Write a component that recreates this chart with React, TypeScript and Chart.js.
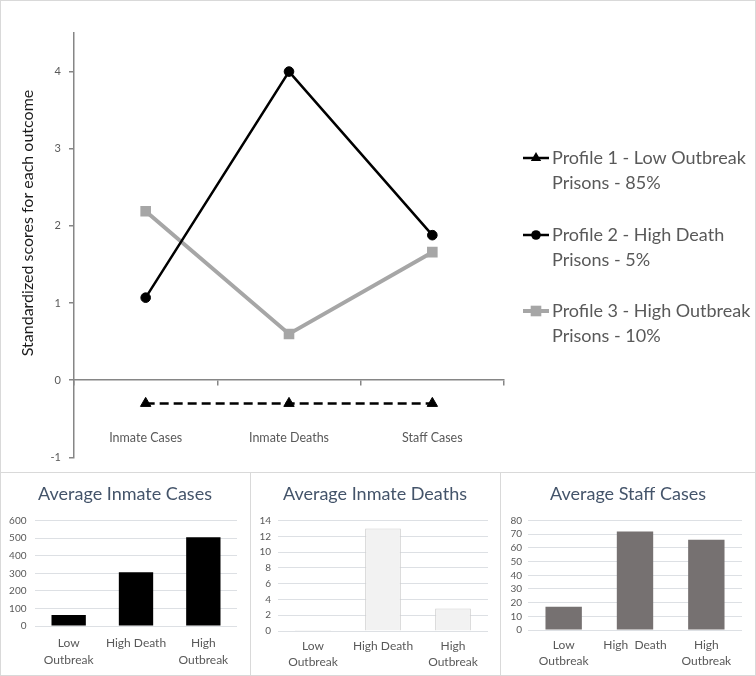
import React, { useEffect, useRef } from 'react';
import { Chart, registerables } from 'chart.js';

Chart.register(...registerables);
Chart.defaults.font.family = 'Lato, "Open Sans", sans-serif';

// ---------- data ----------
const outcomes = ['Inmate Cases', 'Inmate Deaths', 'Staff Cases'];
const profileNames = [
  ['Profile 1 - Low Outbreak', 'Prisons - 85%'],
  ['Profile 2 - High Death', 'Prisons - 5%'],
  ['Profile 3 - High Outbreak', 'Prisons - 10%'],
];
const profile1 = [-0.3, -0.3, -0.3];
const profile2 = [1.07, 4.0, 1.88];
const profile3 = [2.19, 0.6, 1.66];
const mainYMin = -1;
const mainYMax = 4.5;

const groupLabels = [['Low', 'Outbreak'], 'High Death', ['High', 'Outbreak']];
const staffGroupLabels = [['Low', 'Outbreak'], 'High  Death', ['High', 'Outbreak']];
const avgInmateCases = [63, 306, 505];
const avgInmateDeaths = [0.12, 13.0, 2.85];
const avgStaffCases = [17, 72, 66];

const axisGray = '#868686';
const textGray = '#595959';
const gridLight = '#dde0e4';
const borderLight = '#d9d9d9';

// ---------- plugins ----------
const yTitlePlugin = {
  id: 'yTitle',
  afterDraw(chart: any) {
    const ctx = chart.ctx;
    ctx.save();
    ctx.translate(28, 223);
    ctx.rotate(-Math.PI / 2);
    ctx.fillStyle = '#1a1a1a';
    ctx.font = '16px Lato, "Open Sans", sans-serif';
    ctx.textAlign = 'center';
    ctx.textBaseline = 'middle';
    ctx.fillText('Standardized scores for each outcome', 0, 0);
    ctx.restore();
  },
};

const legendPlugin = {
  id: 'sideLegend',
  afterDraw(chart: any) {
    const ctx = chart.ctx;
    const ys = [158, 235, 311];
    chart.data.datasets.forEach((ds: any, i: number) => {
      const y = ys[i];
      ctx.save();
      ctx.strokeStyle = ds.borderColor;
      ctx.lineWidth = ds.borderWidth;
      ctx.beginPath();
      ctx.moveTo(523, y);
      ctx.lineTo(549, y);
      ctx.stroke();
      ctx.fillStyle = ds.pointBackgroundColor;
      const r = ds.pointRadius;
      ctx.beginPath();
      if (ds.pointStyle === 'triangle') {
        ctx.moveTo(536, y - r);
        ctx.lineTo(536 + r * 0.866, y + r * 0.5);
        ctx.lineTo(536 - r * 0.866, y + r * 0.5);
        ctx.closePath();
      } else if (ds.pointStyle === 'rect') {
        const s = r * Math.SQRT1_2;
        ctx.rect(536 - s, y - s, 2 * s, 2 * s);
      } else {
        ctx.arc(536, y, r, 0, Math.PI * 2);
      }
      ctx.fill();
      ctx.fillStyle = textGray;
      ctx.font = '18px Lato, "Open Sans", sans-serif';
      ctx.textAlign = 'left';
      ctx.textBaseline = 'middle';
      const lines = profileNames[i];
      lines.forEach((t, k) => ctx.fillText(t, 552, y + k * 25));
      ctx.restore();
    });
  },
};

// ---------- configs ----------
const mainConfig: any = {
  type: 'line',
  data: {
    labels: outcomes,
    datasets: [
      {
        label: profileNames[0].join(' '),
        data: profile1,
        borderColor: '#000000',
        backgroundColor: '#000000',
        borderWidth: 2.5,
        borderDash: [9, 5],
        pointStyle: 'triangle',
        pointRadius: 6,
        pointBorderWidth: 1,
        pointBackgroundColor: '#000000',
        pointBorderColor: '#000000',
      },
      {
        label: profileNames[1].join(' '),
        data: profile2,
        borderColor: '#000000',
        backgroundColor: '#000000',
        borderWidth: 2.5,
        pointStyle: 'circle',
        pointRadius: 4.8,
        pointBorderWidth: 1,
        pointBackgroundColor: '#000000',
        pointBorderColor: '#000000',
      },
      {
        label: profileNames[2].join(' '),
        data: profile3,
        borderColor: '#a6a6a6',
        backgroundColor: '#a6a6a6',
        borderWidth: 4,
        pointStyle: 'rect',
        pointRadius: 7.5,
        pointBorderWidth: 0,
        pointBackgroundColor: '#a6a6a6',
        pointBorderColor: '#a6a6a6',
      },
    ],
  },
  options: {
    responsive: false,
    animation: false,
    devicePixelRatio: 1,
    layout: { padding: { top: 33, bottom: 12, left: 0, right: 252 } },
    plugins: { legend: { display: false }, tooltip: { enabled: false }, title: { display: false } },
    scales: {
      x: {
        type: 'category',
        position: { y: 0 },
        offset: true,
        grid: {
          display: true,
          drawOnChartArea: false,
          drawTicks: true,
          tickLength: 5,
          offset: true,
          color: axisGray,
          lineWidth: 1.5,
        },
        border: { display: true, color: axisGray, width: 1.5 },
        ticks: { padding: 45, color: textGray, font: { size: 12.5 }, maxRotation: 0 },
      },
      y: {
        type: 'linear',
        min: mainYMin,
        max: mainYMax,
        afterBuildTicks: (s: any) => {
          s.ticks = s.ticks.filter((t: any) => Number.isInteger(t.value));
        },
        afterFit: (s: any) => {
          s.width = 74;
        },
        grid: { drawOnChartArea: false, drawTicks: true, tickLength: 5, color: axisGray, lineWidth: 1.5 },
        border: { display: true, color: axisGray, width: 1.5 },
        ticks: { stepSize: 1, padding: 8, color: textGray, font: { size: 11 } },
      },
    },
  },
  plugins: [legendPlugin, yTitlePlugin],
};

function barConfig(
  title: string,
  labels: any[],
  values: number[],
  fill: string,
  stroke: string,
  yMax: number,
  step: number,
  yWidth: number,
  xHeight: number,
  tickPad: number,
  xPad: number,
  lineH: number,
  rightPad: number
): any {
  return {
    type: 'bar',
    data: {
      labels,
      datasets: [
        {
          label: title,
          data: values,
          backgroundColor: fill,
          borderColor: stroke,
          borderWidth: stroke === fill ? 0 : 1,
          barPercentage: 1,
          categoryPercentage: 0.51,
        },
      ],
    },
    options: {
      responsive: false,
      animation: false,
      devicePixelRatio: 1,
      layout: { padding: 0 },
      plugins: {
        legend: { display: false },
        tooltip: { enabled: false },
        title: {
          display: true,
          text: title,
          color: '#44546a',
          font: { size: 18, weight: 'normal' },
          padding: { top: 11, bottom: 16 },
        },
      },
      scales: {
        x: {
          grid: { display: false, drawTicks: false },
          border: { display: false },
          ticks: {
            color: textGray,
            font: { size: 12, lineHeight: lineH + 'px' },
            padding: xPad,
            maxRotation: 0,
            autoSkip: false,
          },
          afterFit: (s: any) => {
            s.height = xHeight;
          },
        },
        y: {
          min: 0,
          max: yMax,
          grid: { color: gridLight, lineWidth: 1, drawTicks: false },
          border: { display: false },
          ticks: { stepSize: step, color: textGray, font: { size: 10 }, padding: tickPad, autoSkip: false },
          afterFit: (s: any) => {
            s.width = yWidth;
          },
        },
        yRight: {
          position: 'right',
          display: true,
          grid: { display: false, drawTicks: false },
          border: { display: false },
          ticks: { display: false },
          afterFit: (s: any) => {
            s.width = rightPad;
          },
        },
      },
    },
  };
}

function ChartCanvas({ config, width, height, left, top }: any) {
  const ref = useRef<HTMLCanvasElement>(null);
  useEffect(() => {
    const chart = new Chart(ref.current as HTMLCanvasElement, config);
    return () => chart.destroy();
  }, []);
  return (
    <canvas
      ref={ref}
      width={width}
      height={height}
      style={{ position: 'absolute', left, top, width, height, display: 'block' }}
    />
  );
}

function Box({ left, top, width, height }: any) {
  return (
    <div
      style={{
        position: 'absolute',
        left,
        top,
        width,
        height,
        border: `1px solid ${borderLight}`,
        boxSizing: 'border-box',
        pointerEvents: 'none',
      }}
    />
  );
}

export default function App() {
  const panelTop = 472;
  const panelH = 204;
  return (
    <div
      style={{
        position: 'fixed',
        left: 0,
        top: 0,
        width: 756,
        height: 676,
        background: '#ffffff',
        overflow: 'hidden',
      }}
    >
      <ChartCanvas config={mainConfig} width={756} height={472} left={0} top={0} />
      <ChartCanvas
        config={barConfig('Average Inmate Cases', groupLabels, avgInmateCases, '#000000', '#000000', 600, 100, 35, 50, 8.5, 8.5, 17, 13)}
        width={250}
        height={panelH}
        left={0}
        top={panelTop}
      />
      <ChartCanvas
        config={barConfig('Average Inmate Deaths', groupLabels, avgInmateDeaths, '#f2f2f2', '#cfcfcf', 14, 2, 28, 45, 7, 7.5, 15.5, 12)}
        width={250}
        height={panelH}
        left={250}
        top={panelTop}
      />
      <ChartCanvas
        config={barConfig('Average Staff Cases', staffGroupLabels, avgStaffCases, '#767171', '#767171', 80, 10, 28, 46, 6, 7.5, 15.5, 14)}
        width={256}
        height={panelH}
        left={500}
        top={panelTop}
      />
      <Box left={0} top={0} width={756} height={473} />
      <Box left={0} top={472} width={251} height={204} />
      <Box left={250} top={472} width={251} height={204} />
      <Box left={500} top={472} width={256} height={204} />
    </div>
  );
}
